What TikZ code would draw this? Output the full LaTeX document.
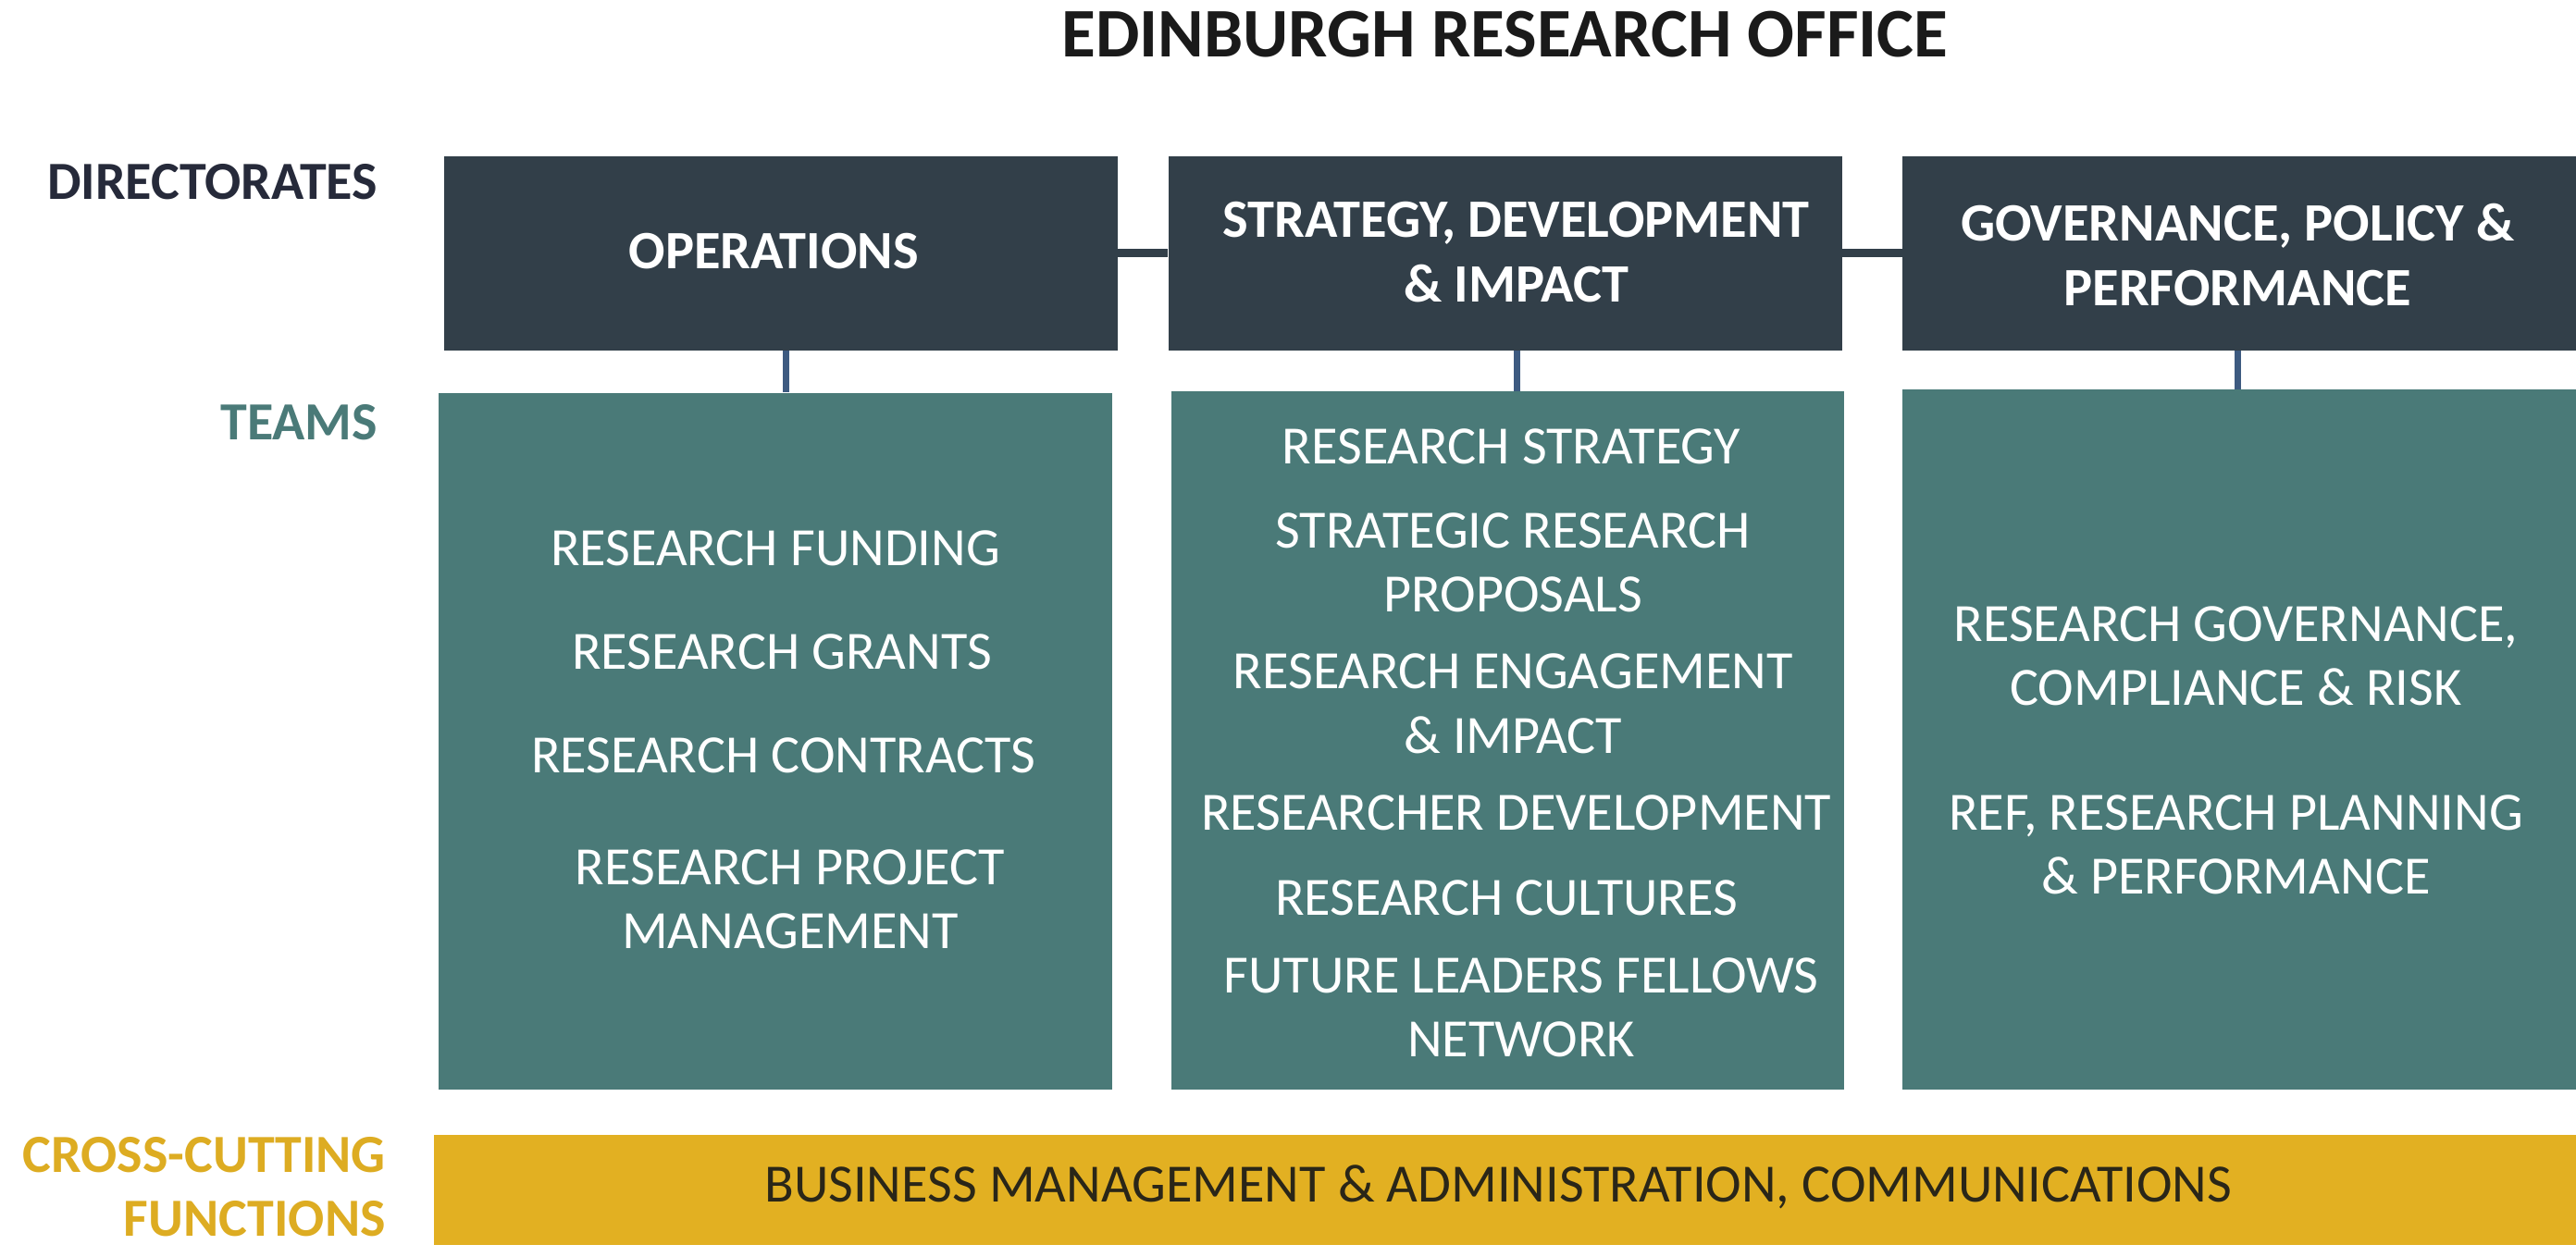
\documentclass[tikz,border=0pt]{standalone}
\usepackage{fontspec}
\setmainfont{Carlito}
\definecolor{dirbox}{HTML}{323F49}
\definecolor{teambox}{HTML}{4A7A78}
\definecolor{gold}{HTML}{E2B022}
\definecolor{vline}{HTML}{3D5A80}
\definecolor{titlec}{HTML}{1A1A1A}
\definecolor{dirlab}{HTML}{262A3A}
\definecolor{crosslab}{HTML}{DDAC22}
\definecolor{bartext}{HTML}{2A2618}
\tikzset{
  dirnode/.style={fill=dirbox, draw=none, minimum width=410pt, minimum height=118pt, anchor=north west, inner sep=0pt},
  teamnode/.style={fill=teambox, draw=none, minimum width=410pt, anchor=north west, inner sep=0pt},
  dirtext/.style={text=white, align=center, inner sep=0pt, font=\fontsize{32.9}{39.5}\selectfont\bfseries},
  teamtext/.style={text=white, align=center, inner sep=0pt, font=\fontsize{32.8}{39}\selectfont},
  sidelab/.style={anchor=east, align=right, inner sep=0pt, font=\fontsize{32.7}{39}\selectfont\bfseries},
  hconn/.style={draw=dirbox, line width=5pt},
  vconn/.style={draw=vline, line width=4pt}
}
\begin{document}
\begin{tikzpicture}[x=1pt,y=-1pt]
\useasboundingbox (0,0) rectangle (1568,765);
% title
\node[text=titlec, inner sep=0pt, font=\fontsize{42.4}{46}\selectfont\bfseries] (title) at (916,21) {EDINBURGH RESEARCH OFFICE};
% side labels
\node[sidelab, text=dirlab] (ldir) at (230,111) {DIRECTORATES};
\node[sidelab, text=teambox] (lteam) at (230,257) {TEAMS};
\node[sidelab, text=crosslab] (lcross) at (235,722.5) {CROSS-CUTTING\\FUNCTIONS};
% directorate boxes
\node[dirnode] (d1) at (270,95) {};
\node[dirnode] (d2) at (711,95) {};
\node[dirnode] (d3) at (1158,95) {};
% team boxes
\node[teamnode, minimum height=424pt] (t1) at (267,239) {};
\node[teamnode, minimum height=425pt, minimum width=409pt] (t2) at (713,238) {};
\node[teamnode, minimum height=426pt] (t3) at (1158,237) {};
% cross-cutting bar
\node[fill=gold, draw=none, minimum width=1304pt, minimum height=67pt, anchor=north west, inner sep=0pt] (bar) at (264,691) {};
% connectors
\draw[hconn] (d1.east) -- (d2.west);
\draw[hconn] (d2.east) -- (d3.west);
\draw[vconn] ([xshift=3pt]d1.south) -- ([xshift=3pt]d1.south |- t1.north);
\draw[vconn] ([xshift=7pt]d2.south) -- ([xshift=7pt]d2.south |- t2.north);
\draw[vconn] ([xshift=-1pt]d3.south) -- ([xshift=-1pt]d3.south |- t3.north);
% directorate text
\node[dirtext] (d1t) at (471,153) {OPERATIONS};
\node[dirtext] (d2t) at (923,153.5) {STRATEGY, DEVELOPMENT\\\& IMPACT};
\node[dirtext] (d3t) at (1362,155) {GOVERNANCE, POLICY \&\\PERFORMANCE};
% team 1 text
\node[teamtext] (a1) at (472,334) {RESEARCH FUNDING};
\node[teamtext] (a2) at (476,397) {RESEARCH GRANTS};
\node[teamtext] (a3) at (477,460) {RESEARCH CONTRACTS};
\node[teamtext] (a4) at (481,547.5) {RESEARCH PROJECT\\MANAGEMENT};
% team 2 text
\node[teamtext] (b1) at (920,272) {RESEARCH STRATEGY};
\node[teamtext] (b2) at (921,342.5) {STRATEGIC RESEARCH\\PROPOSALS};
\node[teamtext] (b3) at (921,428.5) {RESEARCH ENGAGEMENT\\\& IMPACT};
\node[teamtext] (b4) at (923,495) {RESEARCHER DEVELOPMENT};
\node[teamtext] (b5) at (917,547) {RESEARCH CULTURES};
\node[teamtext] (b6) at (926,613.5) {FUTURE LEADERS FELLOWS\\NETWORK};
% team 3 text
\node[teamtext] (c1) at (1361,399.5) {RESEARCH GOVERNANCE,\\COMPLIANCE \& RISK};
\node[teamtext] (c2) at (1361,514.5) {REF, RESEARCH PLANNING\\\& PERFORMANCE};
% bar text
\node[teamtext, text=bartext] (bt) at (912,723) {BUSINESS MANAGEMENT \& ADMINISTRATION, COMMUNICATIONS};
\end{tikzpicture}
\end{document}
